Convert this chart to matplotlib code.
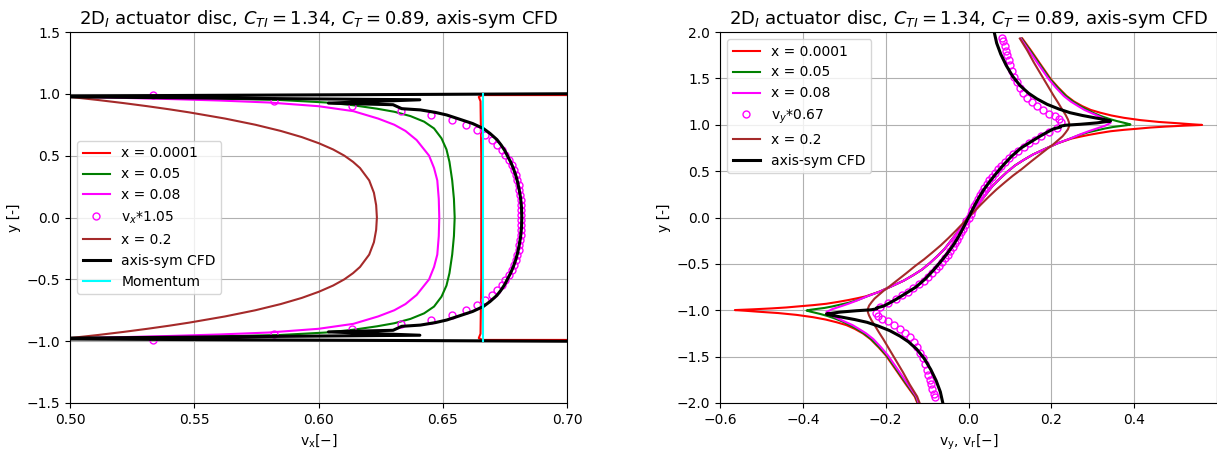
import numpy as np
import matplotlib.pyplot as plt

# ---------------- left panel: v_x over y ----------------
red_vx = [0.75, 0.666, 0.6645, 0.6652, 0.6655, 0.6655, 0.6652, 0.6645, 0.666, 0.75]
red_y = [-0.99, -0.99, -0.975, -0.94, -0.5, 0.5, 0.94, 0.975, 0.99, 0.99]

green_vx = [0.48, 0.55, 0.5845, 0.603, 0.6135, 0.6235, 0.6305, 0.637, 0.6425, 0.6465, 0.6495,
            0.6515, 0.6527, 0.6538, 0.6545, 0.6548,
            0.6545, 0.6538, 0.6527, 0.6515, 0.6495, 0.6465, 0.6425, 0.637, 0.6305, 0.6235,
            0.6135, 0.603, 0.5845, 0.55, 0.48]
green_y = [0.985, 0.965, 0.95, 0.93, 0.909, 0.88, 0.855, 0.82, 0.775, 0.72, 0.64,
           0.55, 0.45, 0.30, 0.15, 0.0,
           -0.15, -0.30, -0.45, -0.55, -0.64, -0.72, -0.775, -0.82, -0.855, -0.88,
           -0.909, -0.93, -0.95, -0.965, -0.985]

mag_vx = [0.48, 0.50, 0.52, 0.54, 0.56, 0.58, 0.600, 0.614, 0.624, 0.6305, 0.635, 0.6395,
          0.6445, 0.6465, 0.6478, 0.6484, 0.6486,
          0.6484, 0.6478, 0.6465, 0.6445, 0.6395, 0.635, 0.6305, 0.624, 0.614, 0.600,
          0.58, 0.56, 0.54, 0.52, 0.50, 0.48]
mag_y = [0.985, 0.978, 0.968, 0.958, 0.946, 0.93, 0.90, 0.86, 0.80, 0.75, 0.70, 0.626,
         0.50, 0.40, 0.30, 0.15, 0.0,
         -0.15, -0.30, -0.40, -0.50, -0.626, -0.70, -0.75, -0.80, -0.86, -0.90,
         -0.93, -0.946, -0.958, -0.968, -0.978, -0.985]

brown_vx = [0.49, 0.500, 0.5113, 0.5216, 0.5311, 0.5399, 0.548, 0.5624, 0.5746, 0.5848,
            0.5933, 0.6002, 0.6059, 0.6104, 0.6139, 0.6167, 0.6204, 0.6223, 0.6232, 0.6235,
            0.6232, 0.6223, 0.6204, 0.6167, 0.6139, 0.6104, 0.6059, 0.6002, 0.5933, 0.5848,
            0.5746, 0.5624, 0.548, 0.5399, 0.5311, 0.5216, 0.5113, 0.500, 0.49]
brown_y = [0.985, 0.975, 0.95, 0.925, 0.90, 0.875, 0.85, 0.80, 0.75, 0.70,
           0.65, 0.60, 0.55, 0.50, 0.45, 0.40, 0.30, 0.20, 0.10, 0.0,
           -0.10, -0.20, -0.30, -0.40, -0.45, -0.50, -0.55, -0.60, -0.65, -0.70,
           -0.75, -0.80, -0.85, -0.875, -0.90, -0.925, -0.95, -0.975, -0.985]

cfd_vx = [0.75, 0.47, 0.6408, 0.604, 0.630, 0.6335, 0.641, 0.647, 0.6516, 0.656, 0.662,
          0.6663, 0.669, 0.6718, 0.6735, 0.675, 0.676, 0.6773, 0.6784, 0.6794, 0.6802,
          0.6808, 0.6813, 0.6817, 0.6818,
          0.6817, 0.6813, 0.6808, 0.6802, 0.6794, 0.6784, 0.6773, 0.676, 0.675, 0.6735,
          0.6718, 0.669, 0.6663, 0.662, 0.656, 0.6516, 0.647, 0.641, 0.6335, 0.630,
          0.604, 0.6408, 0.47, 0.75]
cfd_y = [1.005, 0.98, 0.952, 0.925, 0.912, 0.88, 0.87, 0.85, 0.829, 0.80, 0.76,
         0.72, 0.68, 0.63, 0.586, 0.54, 0.50, 0.45, 0.398, 0.34, 0.28,
         0.22, 0.16, 0.08, 0.0,
         -0.08, -0.16, -0.22, -0.28, -0.34, -0.398, -0.45, -0.50, -0.54, -0.586,
         -0.63, -0.68, -0.72, -0.76, -0.80, -0.829, -0.85, -0.87, -0.88, -0.912,
         -0.925, -0.952, -0.98, -1.005]

circ_vx = [0.5335, 0.582, 0.6136, 0.6331, 0.6451, 0.6536, 0.6594, 0.6636, 0.667, 0.6697,
           0.6717, 0.6737, 0.6752, 0.6765, 0.6777, 0.6786, 0.6794, 0.680, 0.6805, 0.6808,
           0.6811, 0.6813, 0.6815, 0.6816, 0.6816,
           0.6816, 0.6816, 0.6815, 0.6813, 0.6811, 0.6808, 0.6805, 0.680, 0.6794, 0.6786,
           0.6777, 0.6765, 0.6752, 0.6737, 0.6717, 0.6697, 0.667, 0.6636, 0.6594, 0.6536,
           0.6451, 0.6331, 0.6136, 0.582, 0.5335]
circ_y = [0.99, 0.946, 0.901, 0.863, 0.826, 0.786, 0.747, 0.707, 0.667, 0.626,
          0.586, 0.545, 0.505, 0.465, 0.424, 0.384, 0.343, 0.303, 0.263, 0.222,
          0.182, 0.141, 0.101, 0.061, 0.020,
          -0.020, -0.061, -0.101, -0.141, -0.182, -0.222, -0.263, -0.303, -0.343, -0.384,
          -0.424, -0.465, -0.505, -0.545, -0.586, -0.626, -0.667, -0.707, -0.747, -0.786,
          -0.826, -0.863, -0.901, -0.946, -0.99]

mom_vx = [0.6663, 0.6663]
mom_y = [-1.0, 1.0]

# ---------------- right panel: v_y over y ----------------
r_red_vy = [0.13, 0.151, 0.171, 0.185, 0.199, 0.217, 0.237, 0.255, 0.275, 0.295, 0.318,
            0.345, 0.375, 0.415, 0.46, 0.51, 0.54, 0.564,
            0.52, 0.475, 0.44, 0.407, 0.375, 0.343, 0.315, 0.29, 0.268, 0.248,
            0.215, 0.185, 0.156, 0.133, 0.112, 0.093, 0.076, 0.058, 0.044, 0.03, 0.015, 0.0,
            -0.015, -0.03, -0.044, -0.058, -0.076, -0.093, -0.112, -0.133, -0.156, -0.185,
            -0.215, -0.248, -0.268, -0.29, -0.315, -0.343, -0.375, -0.407, -0.44, -0.475,
            -0.52, -0.564, -0.54, -0.51, -0.46, -0.415, -0.375, -0.345, -0.318, -0.295,
            -0.275, -0.255, -0.237, -0.217, -0.199, -0.185, -0.171, -0.151, -0.13, -0.117]
r_red_y = [1.93, 1.80, 1.67, 1.58, 1.49, 1.40, 1.31, 1.25, 1.20, 1.16, 1.13,
           1.10, 1.075, 1.05, 1.03, 1.015, 1.005, 0.998,
           0.99, 0.98, 0.97, 0.957, 0.945, 0.93, 0.91, 0.89, 0.87, 0.85,
           0.80, 0.74, 0.68, 0.62, 0.56, 0.49, 0.42, 0.34, 0.26, 0.18, 0.09, 0.0,
           -0.09, -0.18, -0.26, -0.34, -0.42, -0.49, -0.56, -0.62, -0.68, -0.74,
           -0.80, -0.85, -0.87, -0.89, -0.91, -0.93, -0.945, -0.957, -0.97, -0.98,
           -0.99, -0.998, -1.005, -1.015, -1.03, -1.05, -1.075, -1.10, -1.13, -1.16,
           -1.20, -1.25, -1.31, -1.40, -1.49, -1.58, -1.67, -1.80, -1.93, -2.07]

r_green_vy = [0.128, 0.149, 0.169, 0.183, 0.197, 0.215, 0.235, 0.252, 0.27, 0.287, 0.305,
              0.322, 0.342, 0.358, 0.372, 0.384, 0.391,
              0.382, 0.365, 0.348, 0.33, 0.31, 0.29, 0.268, 0.245,
              0.215, 0.185, 0.156, 0.133, 0.112, 0.093, 0.076, 0.058, 0.044, 0.03, 0.015, 0.0,
              -0.015, -0.03, -0.044, -0.058, -0.076, -0.093, -0.112, -0.133, -0.156, -0.185,
              -0.215, -0.245, -0.268, -0.29, -0.31, -0.33, -0.348, -0.365, -0.382,
              -0.391, -0.384, -0.372, -0.358, -0.342, -0.322, -0.305, -0.287, -0.27,
              -0.252, -0.235, -0.215, -0.197, -0.183, -0.169, -0.149, -0.128, -0.116]
r_green_y = [1.93, 1.80, 1.67, 1.58, 1.49, 1.40, 1.31, 1.25, 1.20, 1.16, 1.12,
             1.09, 1.06, 1.04, 1.025, 1.012, 1.003,
             0.995, 0.985, 0.975, 0.96, 0.94, 0.92, 0.89, 0.85,
             0.80, 0.74, 0.68, 0.62, 0.56, 0.49, 0.42, 0.34, 0.26, 0.18, 0.09, 0.0,
             -0.09, -0.18, -0.26, -0.34, -0.42, -0.49, -0.56, -0.62, -0.68, -0.74,
             -0.80, -0.85, -0.89, -0.92, -0.94, -0.96, -0.975, -0.985, -0.995,
             -1.003, -1.012, -1.025, -1.04, -1.06, -1.09, -1.12, -1.16, -1.20,
             -1.25, -1.31, -1.40, -1.49, -1.58, -1.67, -1.80, -1.93, -2.07]

r_mag_vy = [0.126, 0.146, 0.166, 0.18, 0.194, 0.211, 0.230, 0.247, 0.265, 0.28, 0.295,
            0.31, 0.324, 0.335, 0.343,
            0.33, 0.31, 0.29, 0.272, 0.245, 0.215, 0.185, 0.156, 0.133, 0.112, 0.093,
            0.076, 0.058, 0.044, 0.03, 0.015, 0.0,
            -0.015, -0.03, -0.044, -0.058, -0.076, -0.093, -0.112, -0.133, -0.156, -0.185,
            -0.215, -0.245, -0.272, -0.29, -0.31, -0.33,
            -0.343, -0.335, -0.324, -0.31, -0.295, -0.28, -0.265, -0.247, -0.230, -0.211,
            -0.194, -0.18, -0.166, -0.146, -0.126, -0.115]
r_mag_y = [1.93, 1.80, 1.67, 1.58, 1.49, 1.40, 1.31, 1.25, 1.20, 1.16, 1.13,
           1.10, 1.07, 1.045, 1.02,
           0.99, 0.96, 0.93, 0.90, 0.85, 0.80, 0.74, 0.68, 0.62, 0.56, 0.49,
           0.42, 0.34, 0.26, 0.18, 0.09, 0.0,
           -0.09, -0.18, -0.26, -0.34, -0.42, -0.49, -0.56, -0.62, -0.68, -0.74,
           -0.80, -0.85, -0.90, -0.93, -0.96, -0.99,
           -1.02, -1.045, -1.07, -1.10, -1.13, -1.16, -1.20, -1.25, -1.31, -1.40,
           -1.49, -1.58, -1.67, -1.80, -1.93, -2.07]

r_brown_vy = [0.124, 0.142, 0.158, 0.17, 0.182, 0.194, 0.206, 0.216, 0.226, 0.234, 0.240,
              0.243, 0.243, 0.24, 0.234, 0.227, 0.218, 0.205, 0.19, 0.17, 0.15, 0.128,
              0.107, 0.088, 0.067, 0.048, 0.03, 0.015, 0.0,
              -0.015, -0.03, -0.048, -0.067, -0.088, -0.107, -0.128, -0.15, -0.17, -0.19,
              -0.205, -0.218, -0.227, -0.234, -0.24, -0.243, -0.243, -0.240, -0.234,
              -0.226, -0.216, -0.206, -0.194, -0.182, -0.17, -0.158, -0.142, -0.124, -0.112]
r_brown_y = [1.93, 1.80, 1.67, 1.58, 1.49, 1.40, 1.31, 1.24, 1.166, 1.11, 1.058,
             1.02, 0.985, 0.95, 0.913, 0.875, 0.84, 0.79, 0.74, 0.67, 0.60, 0.52,
             0.45, 0.38, 0.30, 0.22, 0.14, 0.07, 0.0,
             -0.07, -0.14, -0.22, -0.30, -0.38, -0.45, -0.52, -0.60, -0.67, -0.74,
             -0.79, -0.84, -0.875, -0.913, -0.95, -0.985, -1.02, -1.058, -1.11,
             -1.166, -1.24, -1.31, -1.40, -1.49, -1.58, -1.67, -1.80, -1.93, -2.07]

r_cfd_vy = [0.058, 0.062, 0.068, 0.078, 0.091, 0.107, 0.125, 0.145, 0.165, 0.19, 0.218,
            0.245, 0.275, 0.305, 0.33, 0.343,
            0.31, 0.27, 0.235, 0.222, 0.222, 0.205, 0.19, 0.174, 0.152, 0.127, 0.104,
            0.085, 0.066, 0.05, 0.037, 0.026, 0.016, 0.008, 0.0,
            -0.008, -0.016, -0.026, -0.037, -0.05, -0.066, -0.085, -0.104, -0.127, -0.152,
            -0.174, -0.19, -0.205, -0.222, -0.222, -0.235, -0.27, -0.31,
            -0.343, -0.33, -0.305, -0.275, -0.245, -0.218, -0.19, -0.165, -0.145, -0.125,
            -0.107, -0.091, -0.078, -0.068, -0.062, -0.058]
r_cfd_y = [2.05, 2.0, 1.88, 1.76, 1.64, 1.52, 1.42, 1.34, 1.28, 1.22, 1.17,
           1.13, 1.10, 1.075, 1.055, 1.04,
           1.02, 1.005, 0.995, 0.985, 0.975, 0.955, 0.92, 0.88, 0.82, 0.75, 0.66,
           0.57, 0.47, 0.38, 0.30, 0.22, 0.14, 0.07, 0.0,
           -0.07, -0.14, -0.22, -0.30, -0.38, -0.47, -0.57, -0.66, -0.75, -0.82,
           -0.88, -0.92, -0.955, -0.975, -0.985, -0.995, -1.005, -1.02,
           -1.04, -1.055, -1.075, -1.10, -1.13, -1.17, -1.22, -1.28, -1.34, -1.42,
           -1.52, -1.64, -1.76, -1.88, -2.0, -2.05]

r_circ_vy = [0.081, 0.084, 0.087, 0.090, 0.093, 0.097, 0.101, 0.106, 0.111, 0.117, 0.124,
             0.132, 0.142, 0.153, 0.166, 0.180, 0.195, 0.208, 0.218, 0.224,
             0.214, 0.195, 0.174, 0.160, 0.147, 0.133, 0.120, 0.108, 0.097, 0.088, 0.079,
             0.071, 0.063, 0.056, 0.050, 0.044, 0.038, 0.033, 0.028, 0.023, 0.018, 0.014,
             0.009, 0.005, 0.0, -0.005, -0.009, -0.014, -0.018, -0.023, -0.028, -0.033,
             -0.038, -0.044, -0.050, -0.056, -0.063, -0.071, -0.079, -0.088, -0.097,
             -0.108, -0.120, -0.133, -0.147, -0.160, -0.174, -0.195, -0.214,
             -0.224, -0.218, -0.208, -0.195, -0.180, -0.166, -0.153, -0.142, -0.132,
             -0.124, -0.117, -0.111, -0.106, -0.101, -0.097, -0.093, -0.090, -0.087,
             -0.084, -0.081]
r_circ_y = [1.94, 1.90, 1.85, 1.80, 1.75, 1.70, 1.64, 1.58, 1.52, 1.46, 1.40,
            1.34, 1.29, 1.24, 1.20, 1.16, 1.12, 1.09, 1.06, 1.035,
            0.96, 0.92, 0.88, 0.84, 0.80, 0.76, 0.72, 0.68, 0.64, 0.60, 0.56,
            0.52, 0.48, 0.44, 0.40, 0.36, 0.32, 0.28, 0.24, 0.20, 0.16, 0.12,
            0.08, 0.04, 0.0, -0.04, -0.08, -0.12, -0.16, -0.20, -0.24, -0.28,
            -0.32, -0.36, -0.40, -0.44, -0.48, -0.52, -0.56, -0.60, -0.64,
            -0.68, -0.72, -0.76, -0.80, -0.84, -0.88, -0.92, -0.96,
            -1.035, -1.06, -1.09, -1.12, -1.16, -1.20, -1.24, -1.29, -1.34,
            -1.40, -1.46, -1.52, -1.58, -1.64, -1.70, -1.75, -1.80, -1.85,
            -1.90, -1.94]

titulo = r"2D$_I$ actuator disc, $C_{TI} = 1.34$, $C_T = 0.89$, axis-sym CFD"

fig = plt.figure(figsize=(12.17, 4.5), dpi=100)
ax1 = fig.add_axes([70/1217, 47/450, 497/1217, 371/450])
ax2 = fig.add_axes([720/1217, 47/450, 497/1217, 371/450])

# izquierda
ax1.plot(red_vx, red_y, color="red", lw=1.5, label="x = 0.0001")
ax1.plot(green_vx, green_y, color="green", lw=1.5, label="x = 0.05")
ax1.plot(mag_vx, mag_y, color="magenta", lw=1.5, label="x = 0.08")
ax1.plot(circ_vx, circ_y, "o", color="magenta", mfc="none", ms=5, mew=1.0, label=r"v$_x$*1.05")
ax1.plot(brown_vx, brown_y, color="brown", lw=1.5, label="x = 0.2")
ax1.plot(cfd_vx, cfd_y, color="black", lw=2.2, label="axis-sym CFD")
ax1.plot(mom_vx, mom_y, color="cyan", lw=1.5, label="Momentum")
ax1.set_xlim(0.5, 0.7)
ax1.set_ylim(-1.5, 1.5)
ax1.set_xticks([0.50, 0.55, 0.60, 0.65, 0.70])
ax1.set_xticklabels(["0.50", "0.55", "0.60", "0.65", "0.70"])
ax1.grid(True)
ax1.set_xlabel(r"v$_\mathrm{x}$[$-$]")
ax1.set_ylabel("y [-]")
ax1.set_title(titulo, fontsize=13)
ax1.legend(loc="center left")

# derecha
ax2.plot(r_red_vy, r_red_y, color="red", lw=1.5, label="x = 0.0001")
ax2.plot(r_green_vy, r_green_y, color="green", lw=1.5, label="x = 0.05")
ax2.plot(r_mag_vy, r_mag_y, color="magenta", lw=1.5, label="x = 0.08")
ax2.plot(r_circ_vy, r_circ_y, "o", color="magenta", mfc="none", ms=5, mew=1.0, label=r"v$_y$*0.67")
ax2.plot(r_brown_vy, r_brown_y, color="brown", lw=1.5, label="x = 0.2")
ax2.plot(r_cfd_vy, r_cfd_y, color="black", lw=2.2, label="axis-sym CFD")
ax2.set_xlim(-0.6, 0.6)
ax2.set_ylim(-2.0, 2.0)
ax2.set_xticks([-0.6, -0.4, -0.2, 0.0, 0.2, 0.4])
ax2.grid(True)
ax2.set_xlabel(r"v$_\mathrm{y}$, v$_\mathrm{r}$[$-$]")
ax2.set_ylabel("y [-]")
ax2.set_title(titulo, fontsize=13)
ax2.legend(loc="upper left")

fig.savefig("out.png", dpi=100)
